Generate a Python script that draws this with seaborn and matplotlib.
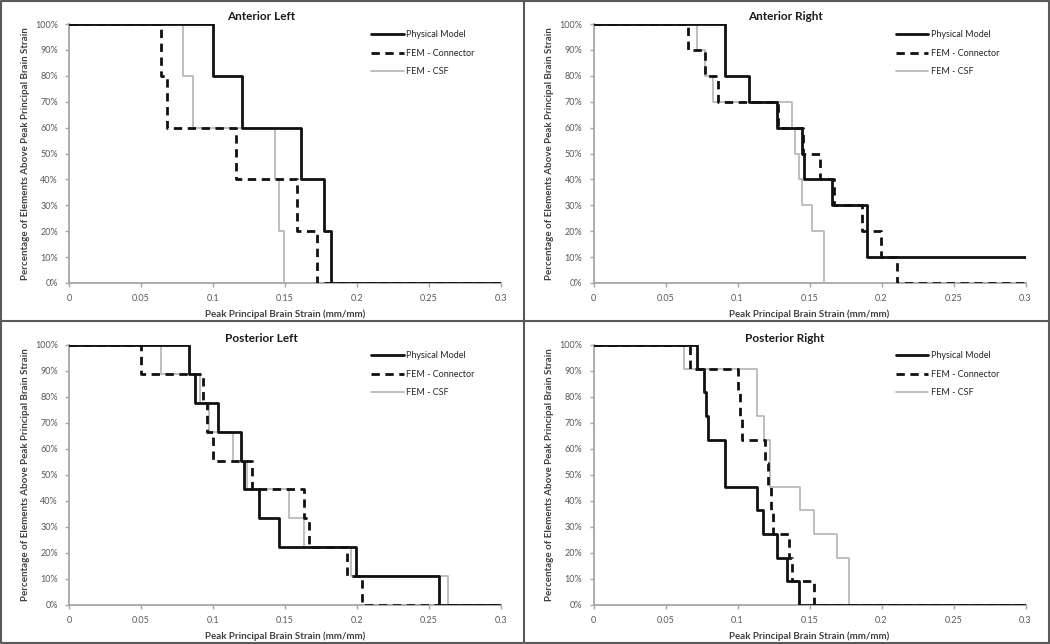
import numpy as np
import pandas as pd
import seaborn as sns
import matplotlib.pyplot as plt
from matplotlib.lines import Line2D
from matplotlib.ticker import FuncFormatter

# ---------------- data (peak principal strain of each element, mm/mm) ----------------
regions = ["Anterior Left", "Anterior Right", "Posterior Left", "Posterior Right"]
series_names = ["Physical Model", "FEM - Connector", "FEM - CSF"]

al_phys = [0.100, 0.120, 0.161, 0.177, 0.182]
al_conn = [0.064, 0.068, 0.116, 0.158, 0.172]
al_csf = [0.079, 0.086, 0.143, 0.146, 0.149]

ar_phys = [0.0915, 0.0915, 0.108, 0.1275, 0.1446, 0.1464, 0.1654, 0.190, 0.190, 0.31]
ar_conn = [0.0655, 0.0774, 0.0862, 0.1280, 0.1453, 0.1573, 0.167, 0.1862, 0.1994, 0.2105]
ar_csf = [0.0716, 0.0774, 0.0832, 0.138, 0.140, 0.143, 0.145, 0.152, 0.160, 0.160]

pl_phys = [0.083, 0.0877, 0.1032, 0.1193, 0.1218, 0.1322, 0.1456, 0.199, 0.257]
pl_conn = [0.050, 0.0933, 0.0955, 0.1003, 0.1269, 0.1632, 0.1669, 0.1933, 0.2033]
pl_csf = [0.0637, 0.091, 0.097, 0.1141, 0.1235, 0.153, 0.1634, 0.196, 0.2634]

pr_phys = [0.0721, 0.077, 0.078, 0.0797, 0.0913, 0.0913, 0.1133, 0.1179, 0.1272, 0.1345, 0.1427]
pr_conn = [0.067, 0.100, 0.102, 0.103, 0.119, 0.121, 0.1234, 0.1245, 0.1355, 0.138, 0.153]
pr_csf = [0.063, 0.1133, 0.1133, 0.1186, 0.1226, 0.1226, 0.1434, 0.1533, 0.1689, 0.1776, 0.1776]

x_ticks = [0, 0.05, 0.1, 0.15, 0.2, 0.25, 0.3]
x_tick_labels = ["0", "0.05", "0.1", "0.15", "0.2", "0.25", "0.3"]
y_ticks = list(range(0, 101, 10))

data = {
    "Anterior Left": [al_phys, al_conn, al_csf],
    "Anterior Right": [ar_phys, ar_conn, ar_csf],
    "Posterior Left": [pl_phys, pl_conn, pl_csf],
    "Posterior Right": [pr_phys, pr_conn, pr_csf],
}

# ---------------- style ----------------
sns.set_theme(style="white")
plt.rcParams["font.family"] = ["Lato", "DejaVu Sans"]

W, H = 1050, 644
fig = plt.figure(figsize=(W / 100, H / 100), dpi=100)
fig.patch.set_facecolor("white")

styles = [
    dict(color="#111111", linestyle="-", linewidth=2.0, zorder=4),
    dict(color="#111111", linestyle=(0, (3, 2)), linewidth=2.0, zorder=5),
    dict(color="#b4b4b4", linestyle="-", linewidth=1.2, zorder=3),
]


def survival(strains, xmax=0.3):
    s = np.sort(np.asarray(strains, dtype=float))
    n = len(s)
    pct = 100.0 * (1 - np.arange(1, n + 1) / n)
    x = np.concatenate([[0.0], s])
    y = np.concatenate([[100.0], pct])
    if x[-1] < xmax:
        x = np.append(x, xmax)
        y = np.append(y, y[-1])
    return pd.DataFrame({"strain": x, "pct": y})


# axes pixel boxes (left, top, right, bottom)
boxes = {
    "Anterior Left": (69, 24, 501, 283),
    "Anterior Right": (593.5, 24, 1025.5, 283),
    "Posterior Left": (69, 345, 501, 605),
    "Posterior Right": (593.5, 345, 1025.5, 605),
}
panel_left = {"Anterior Left": 0, "Anterior Right": 524, "Posterior Left": 0, "Posterior Right": 524}
panel_top = {"Anterior Left": 0, "Anterior Right": 0, "Posterior Left": 321, "Posterior Right": 321}

axis_gray = "#a6a6a6"
tick_text = "#595959"

for reg in regions:
    l, t, r, b = boxes[reg]
    ax = fig.add_axes([l / W, (H - b) / H, (r - l) / W, (b - t) / H])
    ax.set_facecolor("white")
    for name, strains, st in zip(series_names, data[reg], styles):
        df = survival(strains)
        sns.lineplot(data=df, x="strain", y="pct", ax=ax, estimator=None, sort=False,
                     drawstyle="steps-post", label=name, **st)
    ax.set_xlim(0, 0.3)
    ax.set_ylim(0, 100)
    ax.set_xticks(x_ticks)
    ax.set_xticklabels(x_tick_labels)
    ax.set_yticks(y_ticks)
    ax.yaxis.set_major_formatter(FuncFormatter(lambda v, p: f"{int(round(v))}%"))
    for sp in ["top", "right"]:
        ax.spines[sp].set_visible(False)
    for sp in ["left", "bottom"]:
        ax.spines[sp].set_color(axis_gray)
        ax.spines[sp].set_linewidth(1.3)
    ax.tick_params(axis="both", which="major", direction="out", length=3, width=1,
                   color=axis_gray, labelsize=6.5, labelcolor=tick_text, pad=5,
                   bottom=True, left=True)
    ax.set_xlabel("Peak Principal Brain Strain (mm/mm)", fontsize=7, fontweight="bold", color="#404040")
    ax.set_ylabel("Percentage of Elements Above Peak Principal Brain Strain", fontsize=7,
                  fontweight="bold", color="#404040")
    ax.xaxis.set_label_coords(0.5, -(309.5 - b) / (b - t) if False else -(309.5 - 283) / 259)
    ax.yaxis.set_label_coords(-(l - panel_left[reg] - 30) / (r - l) if False else -(69 - 30) / 432, 0.5)
    leg = ax.legend(loc="upper left", bbox_to_anchor=(0.70, 0.975), frameon=False, fontsize=6.5,
                    handlelength=3.6, handletextpad=0.25, labelspacing=1.05, borderaxespad=0,
                    borderpad=0)
    for txt in leg.get_texts():
        txt.set_color("#262626")
    cx = panel_left[reg] + 261
    fig.text(cx / W, 1 - (panel_top[reg] + 17) / H, reg, ha="center", va="center",
             fontsize=8.5, fontweight="bold", color="#1a1a1a")

# panel frames
frame_col = "#5a5a5a"
for xs, ys in [([1.5, 1048.5], [1, 1]), ([1.5, 1048.5], [643, 643]), ([1, 1], [1, 643]),
               ([1049, 1049], [1, 643]), ([524, 524], [1, 643]), ([1, 1049], [321, 321])]:
    fig.add_artist(Line2D([x / W for x in xs], [1 - y / H for y in ys], color=frame_col,
                          linewidth=1.5, transform=fig.transFigure))

fig.savefig("out.png", dpi=100, facecolor="white")
